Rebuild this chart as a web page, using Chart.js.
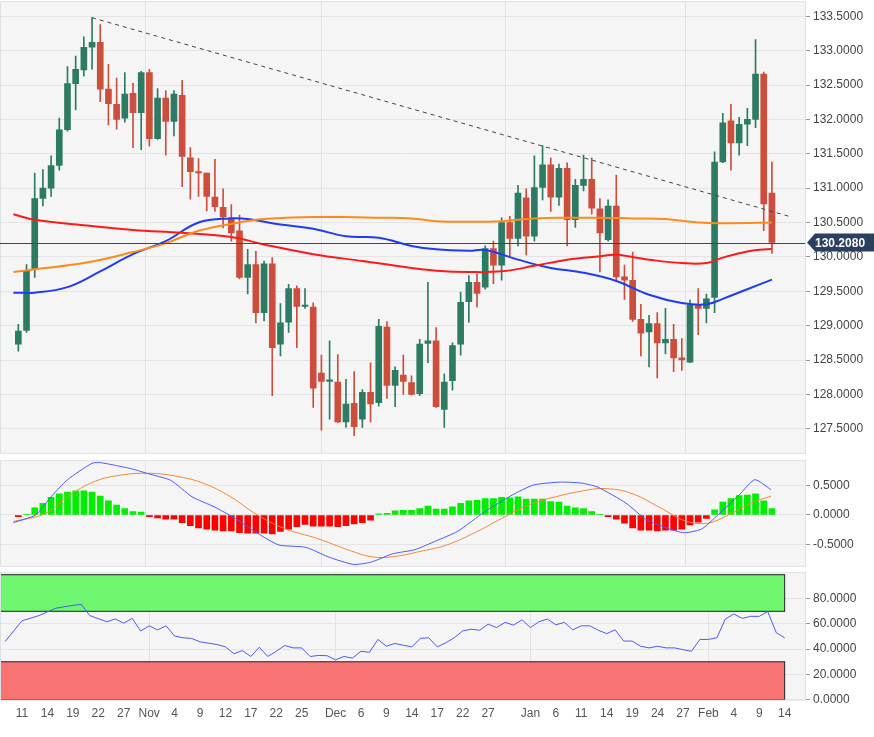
<!DOCTYPE html>
<html>
<head>
<meta charset="utf-8">
<script src="https://cdn.jsdelivr.net/npm/chart.js@4"></script>
<style>
  body { margin: 0; background: #fff; width: 874px; height: 737px; overflow: hidden; }
  .pane { position: absolute; left: 0; width: 874px; }
</style>
</head>
<body>
<div class="pane" style="top:-9px;height:472px"><canvas id="price"></canvas></div>
<div class="pane" style="top:450px;height:126px"><canvas id="macd"></canvas></div>
<div class="pane" style="top:562px;height:166px"><canvas id="rsi"></canvas></div>
<script>
// x tick labels (bar index -> label)
const tickIdx = [2, 5, 8, 11, 14, 17, 20, 23, 26, 29, 32, 35, 39, 42, 45, 48, 51, 54, 57, 62, 65, 68, 71, 74, 77, 80, 83, 86, 89, 92];
const tickText = ['11', '14', '19', '22', '27', 'Nov', '4', '9', '12', '17', '22', '25', 'Dec', '6', '9', '14', '17', '22', '27', 'Jan', '6', '11', '14', '19', '24', '27', 'Feb', '4', '9', '14'];
const monthIdx = [17, 39, 62, 83];

// daily candles
const opens = [128.73,128.93,129.82,130.85,131.0,131.33,131.85,132.52,132.72,133.05,133.12,132.44,132.22,132.02,132.38,132.1,132.68,131.72,132.31,131.97,132.35,131.44,131.24,131.22,130.87,130.72,130.57,130.38,129.7,129.89,129.19,129.9,128.73,129.05,129.54,129.28,129.27,128.31,128.19,128.18,127.6,127.87,127.64,128.03,127.88,128.98,128.13,128.28,128.17,128.01,128.74,128.78,127.78,128.2,128.73,129.35,129.63,129.56,130.12,129.88,130.5,130.27,130.86,130.3,131.01,131.34,130.87,131.29,130.54,131.04,131.13,130.7,130.25,130.74,129.71,129.66,129.09,128.91,129.03,128.75,128.8,128.53,128.47,129.3,129.25,129.41,131.38,131.98,131.66,131.93,132.0,132.66,130.93];
const highs = [129.02,129.89,131.22,131.27,131.47,132.02,132.77,132.92,133.2,133.48,133.38,132.8,132.6,132.68,132.53,132.7,132.73,132.45,132.42,132.42,132.57,131.59,131.43,131.22,131.42,130.99,130.76,130.61,130.11,130.08,129.94,129.99,129.32,129.6,129.58,129.54,129.33,128.57,128.78,128.58,128.22,128.33,128.07,128.46,129.09,129.06,128.4,128.57,128.27,128.8,129.63,128.97,128.3,128.75,129.49,129.73,129.75,130.16,130.23,130.57,130.59,131.04,130.99,131.47,131.62,131.44,131.35,131.37,131.13,131.48,131.44,130.85,130.83,131.19,129.88,130.07,129.31,129.15,129.19,129.25,129.02,128.81,129.37,129.54,129.46,131.53,132.09,132.22,132.03,132.16,133.16,132.69,131.38];
const lows = [128.63,128.9,129.7,130.74,130.88,131.26,131.83,132.14,132.63,132.73,132.26,131.92,131.86,131.96,131.59,131.56,131.61,131.71,131.48,131.76,131.02,130.84,130.88,130.67,130.66,130.42,130.23,129.68,129.46,129.04,129.07,127.98,128.56,128.9,128.68,129.25,127.81,127.48,127.64,127.59,127.52,127.4,127.52,127.6,127.83,127.94,127.82,128.0,127.99,127.98,128.46,127.81,127.52,128.06,128.57,129.05,129.27,129.53,129.61,129.66,130.01,130.16,130.03,130.23,130.83,130.66,130.75,130.16,130.43,130.96,130.62,129.78,130.23,129.67,129.38,129.06,128.56,128.4,128.24,128.59,128.33,128.35,128.46,128.87,129.04,129.19,131.37,131.26,131.48,131.62,131.88,130.38,130.05];
const closes = [128.92,129.8,130.85,131.0,131.33,131.85,132.52,132.73,133.05,133.12,132.44,132.23,132.0,132.37,132.1,132.68,131.72,132.31,131.97,132.37,131.46,131.24,131.23,130.88,130.73,130.58,130.35,129.7,129.89,129.19,129.9,128.68,129.04,129.54,129.28,129.28,128.09,128.19,128.19,127.6,127.86,127.53,128.03,127.86,128.99,128.13,128.35,128.19,128.0,128.73,128.78,127.82,128.18,128.71,129.34,129.63,129.47,130.12,129.88,130.5,130.27,130.93,130.3,131.01,131.34,130.87,131.29,130.54,131.04,131.13,130.71,130.35,130.74,129.71,129.66,129.09,128.89,129.03,128.75,128.8,128.53,128.5,129.3,129.25,129.39,131.38,131.95,131.66,131.93,132.0,132.66,130.77,130.21];
const lastPrice = 130.208;

// moving averages (sampled bar index / value)
const blueIdx = [-0.6, 2, 6, 10, 14, 18, 22, 26, 28, 32, 36, 40, 44, 48, 51, 55, 57, 61, 65, 69, 73, 77, 81, 84, 86, 89, 92];
const blueVal = [129.48, 129.48, 129.56, 129.79, 130.04, 130.23, 130.5, 130.56, 130.55, 130.47, 130.41, 130.3, 130.28, 130.16, 130.11, 130.09, 130.1, 129.96, 129.84, 129.77, 129.65, 129.45, 129.33, 129.31, 129.39, 129.53, 129.67];
const redIdx = [-0.6, 2, 8, 14, 20, 26, 30, 36, 42, 48, 51, 55, 59, 63, 67, 71, 73, 77, 81, 84, 86, 89, 92];
const redVal = [130.62, 130.54, 130.46, 130.39, 130.35, 130.29, 130.18, 130.04, 129.94, 129.84, 129.8, 129.78, 129.79, 129.87, 129.96, 130.01, 130.03, 129.96, 129.91, 129.91, 129.99, 130.08, 130.12];
const orangeIdx = [-0.6, 2, 8, 14, 18, 22, 26, 30, 36, 40, 44, 48, 51, 55, 59, 63, 67, 71, 75, 79, 83, 87, 92];
const orangeVal = [129.78, 129.82, 129.91, 130.07, 130.2, 130.38, 130.48, 130.55, 130.58, 130.58, 130.57, 130.56, 130.52, 130.51, 130.52, 130.56, 130.57, 130.57, 130.56, 130.55, 130.5, 130.49, 130.5];
const trendIdx = [9, 94.4];
const trendVal = [133.48, 130.58];

// MACD
const histVal = [-0.03,0.01,0.12,0.2,0.3,0.36,0.39,0.41,0.41,0.39,0.32,0.24,0.17,0.11,0.06,0.05,-0.03,-0.05,-0.07,-0.07,-0.13,-0.18,-0.22,-0.24,-0.26,-0.27,-0.27,-0.3,-0.31,-0.31,-0.31,-0.32,-0.28,-0.24,-0.2,-0.16,-0.19,-0.19,-0.19,-0.2,-0.18,-0.15,-0.13,-0.09,0.02,0.03,0.07,0.08,0.08,0.11,0.15,0.1,0.1,0.14,0.2,0.24,0.25,0.28,0.28,0.3,0.29,0.31,0.27,0.27,0.27,0.23,0.22,0.15,0.12,0.11,0.06,0.005,-0.03,-0.07,-0.14,-0.22,-0.26,-0.26,-0.27,-0.26,-0.26,-0.24,-0.17,-0.12,-0.06,0.09,0.22,0.28,0.33,0.34,0.36,0.24,0.11];
const macdIdx = [-0.6, 2.1, 4, 6, 9, 10, 12, 14, 15.9, 18.6, 21.2, 23.9, 26.5, 29.2, 31.8, 35.1, 37.8, 40.9, 43.1, 45.7, 48.4, 51, 53.6, 57, 60.3, 62.9, 66.2, 68.9, 70.8, 74.2, 76.8, 81.1, 83.4, 85.4, 88, 89.9, 91.9];
const macdVal = [-0.13, 0, 0.31, 0.6, 0.88, 0.89, 0.84, 0.78, 0.7, 0.59, 0.31, 0.14, -0.06, -0.31, -0.51, -0.55, -0.71, -0.84, -0.8, -0.66, -0.59, -0.44, -0.28, 0.06, 0.34, 0.51, 0.56, 0.54, 0.47, 0.2, -0.09, -0.3, -0.24, 0, 0.34, 0.6, 0.43];
const sigIdx = [-0.6, 3.4, 6, 9.3, 12.6, 15.9, 19.3, 22.6, 25.9, 29.2, 32.5, 36.5, 40.4, 43.1, 45.7, 49.7, 52.3, 55.6, 59, 62.3, 65.6, 68.9, 71.5, 74.8, 78.8, 81.4, 84.1, 86.7, 89.4, 91.9];
const sigVal = [-0.11, 0.03, 0.31, 0.57, 0.68, 0.71, 0.66, 0.54, 0.31, 0, -0.23, -0.4, -0.6, -0.71, -0.71, -0.6, -0.51, -0.31, -0.06, 0.17, 0.31, 0.41, 0.45, 0.37, 0.09, -0.1, -0.14, 0, 0.2, 0.32];

// RSI
const rsiIdx = [0,2,4,6,8,9,10,12,13,14,15,16,17,18,19,20,21,22,23,25,26,27,28,29,30,31,32,33,34,35,36,37,38,39,40,41,42,43,44,45,46,47,48,49,50,51,52,53,54,55,56,57,58,59,60,61,62,63,64,65,66,67,68,69,70,71,72,73,74,75,76,77,78,79,80,81,82,83,84,85,86,87,88,89,90,91,92];
const rsiVal = [46,62.5,66.6,72.5,74.7,75.5,66.6,61.7,63.9,60.6,64.4,54.4,58.5,55.3,58.5,50.4,49,48.5,45.8,43.7,41.8,36.4,38.8,34.2,41.5,34.2,38.3,42.9,41,41,34.2,35,34.8,31.5,34.2,32.9,38.3,37.5,47.7,42.3,44.5,43.1,41.8,48.5,49,41.8,45,49,54.4,55.8,55,59.8,57.1,61.2,59,63.3,57.1,61.7,63.9,59.3,61.2,55.3,58.5,58.5,55,52.3,55.3,46.4,46.4,42.3,41,42.3,41,41,39.6,38.3,47.7,47.7,49,63.9,67.9,64.4,66,66,69.8,53.1,49];
const rsiZones = [[70, 99, 'rgba(102, 245, 102, 0.95)'], [0, 30, 'rgba(248, 108, 108, 0.95)']];
const zoneEnd = 92;

const UP = '#2e7b63';
const DOWN = '#cc4e3c';
const FONT = { family: 'Liberation Sans, Arial, sans-serif', size: 12 };
const X_MIN = -0.6, X_MAX = 94.4;

const pts = (xs, ys) => xs.map((x, i) => ({ x, y: ys[i] }));
const up = opens.map((o, i) => closes[i] >= o);

const panelBg = {
    id: 'panelBg',
    beforeDraw(chart) {
        const { ctx, chartArea: a } = chart;
        ctx.save();
        ctx.fillStyle = '#f5f5f5';
        ctx.fillRect(a.left, a.top, a.right - a.left, a.bottom - a.top);
        ctx.restore();
    },
    afterDraw(chart) {
        const { ctx, chartArea: a } = chart;
        ctx.save();
        ctx.strokeStyle = '#dde1e6';
        ctx.lineWidth = 1;
        ctx.strokeRect(a.left + 0.5, a.top + 0.5, a.right - a.left, a.bottom - a.top);
        ctx.restore();
    },
};

function xAxis(showLabels) {
    return {
        type: 'linear',
        min: X_MIN,
        max: X_MAX,
        display: true,
        border: { display: false },
        afterBuildTicks: (ax) => { ax.ticks = tickIdx.map((v) => ({ value: v })); },
        grid: {
            drawTicks: false,
            color: (c) => (c.tick && monthIdx.includes(c.tick.value) ? '#e2e2e2' : 'transparent'),
        },
        ticks: {
            display: showLabels,
            autoSkip: false,
            maxRotation: 0,
            padding: 7,
            color: '#555',
            font: FONT,
            callback: (v) => tickText[tickIdx.indexOf(v)] ?? '',
        },
    };
}

function yAxis(min, max, ticks, digits) {
    return {
        position: 'right',
        min,
        max,
        afterFit: (ax) => { ax.width = 69; },
        afterBuildTicks: (ax) => { ax.ticks = ticks.map((v) => ({ value: v })); },
        border: { color: '#cfd5dc' },
        grid: { color: '#e4e4e4', tickLength: 5, tickColor: '#999' },
        ticks: { color: '#444', font: FONT, padding: 3, callback: (v) => v.toFixed(digits) },
    };
}

const baseOpts = {
    responsive: true,
    maintainAspectRatio: false,
    animation: false,
    layout: { padding: 0 },
    plugins: { legend: { display: false }, tooltip: { enabled: false } },
};

const priceTag = {
    id: 'priceTag',
    afterDraw(chart) {
        const { ctx, chartArea: a, scales } = chart;
        const y = scales.y.getPixelForValue(lastPrice);
        ctx.save();
        ctx.strokeStyle = '#34486a';
        ctx.lineWidth = 1;
        ctx.beginPath();
        ctx.moveTo(a.left, Math.round(y) + 0.5);
        ctx.lineTo(a.right, Math.round(y) + 0.5);
        ctx.stroke();
        ctx.fillStyle = '#2b3f60';
        ctx.beginPath();
        ctx.moveTo(a.right + 2, y);
        ctx.lineTo(a.right + 10, y - 9);
        ctx.lineTo(874, y - 9);
        ctx.lineTo(874, y + 9);
        ctx.lineTo(a.right + 10, y + 9);
        ctx.closePath();
        ctx.fill();
        ctx.fillStyle = '#fff';
        ctx.font = 'bold 12px Liberation Sans, Arial, sans-serif';
        ctx.textBaseline = 'middle';
        ctx.fillText(lastPrice.toFixed(4), a.right + 10, y + 1);
        ctx.restore();
    },
};

new Chart(document.getElementById('price'), {
    data: {
        datasets: [
            { type: 'line', data: pts(trendIdx, trendVal), borderColor: '#444', borderWidth: 1, borderDash: [4, 4], pointRadius: 0 },
            { type: 'line', data: pts(orangeIdx, orangeVal), borderColor: '#ff8c1a', borderWidth: 2, pointRadius: 0, tension: 0.4 },
            { type: 'line', data: pts(redIdx, redVal), borderColor: '#ff1a1a', borderWidth: 2, pointRadius: 0, tension: 0.4 },
            { type: 'line', data: pts(blueIdx, blueVal), borderColor: '#1f3cf0', borderWidth: 2, pointRadius: 0, tension: 0.4 },
            {
                type: 'bar', grouped: false, barThickness: 1,
                data: lows.map((l, i) => ({ x: i, y: [l, highs[i]] })),
                backgroundColor: up.map((u) => (u ? UP : DOWN)),
            },
            {
                type: 'bar', grouped: false, barThickness: 6,
                data: opens.map((o, i) => ({ x: i, y: [o, Math.abs(closes[i] - o) < 0.02 ? o + (up[i] ? 0.02 : -0.02) : closes[i]] })),
                backgroundColor: up.map((u) => (u ? UP : DOWN)),
            },
        ],
    },
    options: {
        ...baseOpts,
        scales: {
            x: { ...xAxis(false), ticks: { display: false } },
            y: yAxis(127.15, 133.72, [127.5, 128, 128.5, 129, 129.5, 130, 130.5, 131, 131.5, 132, 132.5, 133, 133.5], 4),
        },
    },
    plugins: [panelBg, priceTag],
});

new Chart(document.getElementById('macd'), {
    data: {
        datasets: [
            { type: 'line', data: pts(macdIdx, macdVal), borderColor: '#4a5cf5', borderWidth: 1, pointRadius: 0, tension: 0.2 },
            { type: 'line', data: pts(sigIdx, sigVal), borderColor: '#f5883a', borderWidth: 1, pointRadius: 0, tension: 0.4 },
            {
                type: 'bar', barThickness: 6,
                data: histVal.map((v, i) => ({ x: i, y: v })),
                backgroundColor: histVal.map((v) => (v >= 0 ? '#00ee00' : '#ff0000')),
            },
        ],
    },
    options: {
        ...baseOpts,
        scales: {
            x: { ...xAxis(false), ticks: { display: false } },
            y: yAxis(-0.864, 0.932, [-0.5, 0, 0.5], 4),
        },
    },
    plugins: [panelBg],
});

const zones = {
    id: 'zones',
    beforeDatasetsDraw(chart) {
        const { ctx, scales } = chart;
        const x0 = scales.x.getPixelForValue(X_MIN);
        const x1 = scales.x.getPixelForValue(zoneEnd);
        ctx.save();
        rsiZones.forEach(([lo, hi, color]) => {
            const yTop = scales.y.getPixelForValue(hi);
            const yBot = scales.y.getPixelForValue(lo);
            ctx.fillStyle = color;
            ctx.fillRect(x0, yTop, x1 - x0, yBot - yTop);
            ctx.strokeStyle = '#222';
            ctx.lineWidth = 1;
            ctx.strokeRect(x0, yTop, x1 - x0, yBot - yTop);
        });
        ctx.restore();
    },
};

new Chart(document.getElementById('rsi'), {
    data: {
        datasets: [
            { type: 'line', data: pts(rsiIdx, rsiVal), borderColor: '#4a5cf5', borderWidth: 1, pointRadius: 0 },
        ],
    },
    options: {
        ...baseOpts,
        scales: {
            x: xAxis(true),
            y: yAxis(0, 101, [0, 20, 40, 60, 80], 4),
        },
    },
    plugins: [panelBg, zones],
});
</script>
</body>
</html>
